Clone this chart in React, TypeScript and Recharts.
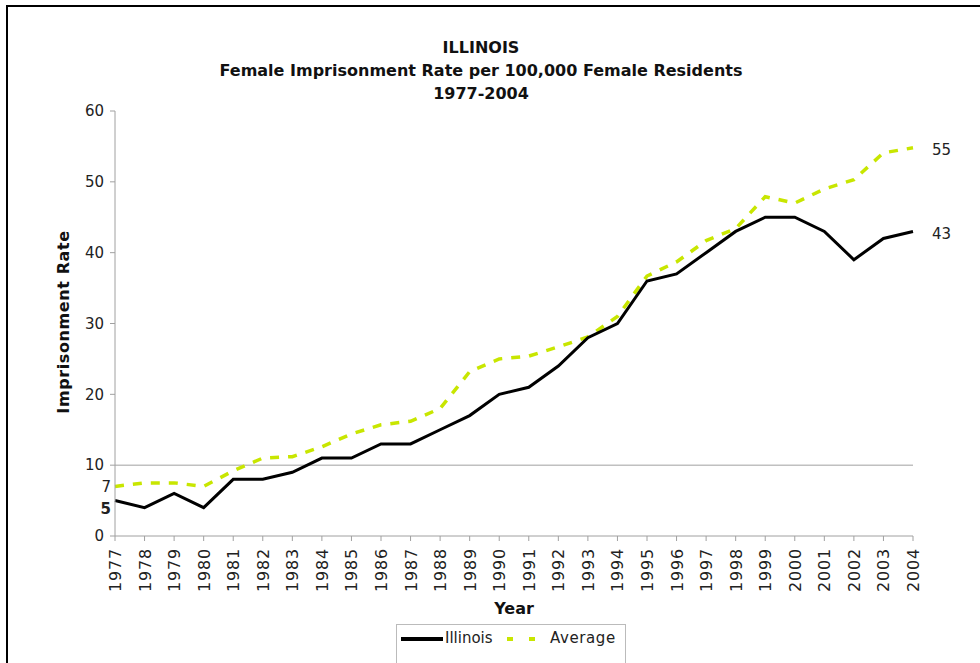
import React from 'react';
import { LineChart, Line, XAxis, YAxis, ReferenceLine, Label } from 'recharts';

const years = ['1977', '1978', '1979', '1980', '1981', '1982', '1983', '1984', '1985', '1986', '1987', '1988', '1989', '1990', '1991', '1992', '1993', '1994', '1995', '1996', '1997', '1998', '1999', '2000', '2001', '2002', '2003', '2004'];
const illinois = [5, 4, 6, 4, 8, 8, 9, 11, 11, 13, 13, 15, 17, 20, 21, 24, 28, 30, 36, 37, 40, 43, 45, 45, 43, 39, 42, 43];
const average = [7, 7.5, 7.5, 7, 9.2, 11, 11.2, 12.6, 14.4, 15.7, 16.2, 18, 23.2, 25, 25.4, 26.7, 28.1, 31, 36.7, 38.7, 41.7, 43.4, 47.9, 47, 49, 50.3, 54.1, 54.8];
const yTicks = [0, 10, 20, 30, 40, 50, 60];
const titleLines = ['ILLINOIS', 'Female Imprisonment Rate per 100,000 Female Residents', '1977-2004'];

const data = years.map((year, i) => ({ year, illinois: illinois[i], average: average[i] }));

const FONT = '"DejaVu Sans", Verdana, sans-serif';
const GREEN = '#c8e600';
const AXIS = '#a0a0a0';

// value shown only at the two ends of each line
function endLabel(boldFirst: boolean, firstDy: number) {
  return (props: any) => {
    const { x, y, index, value } = props;
    const last = years.length - 1;
    if (index !== 0 && index !== last) return null;
    const first = index === 0;
    return (
      <text
        x={first ? x - 4 : x + 19}
        y={y + (first ? firstDy : 2)}
        dy="0.35em"
        textAnchor={first ? 'end' : 'start'}
        fontFamily={FONT}
        fontSize={15}
        fontWeight={first && boldFirst ? 'bold' : 'normal'}
        fill="#222"
      >
        {Math.round(value)}
      </text>
    );
  };
}

function YearTick(props: any) {
  const { x, payload } = props;
  return (
    <g transform={`translate(${x},548)`}>
      <text transform="rotate(-90)" x={0} y={6} textAnchor="end" fontFamily={FONT} fontSize={16} letterSpacing={0.8} fill="#222">
        {payload.value}
      </text>
    </g>
  );
}

export default function App() {
  return (
    <div style={{ position: 'relative', width: 980, height: 663, overflow: 'hidden', background: '#fff' }}>
      <style>{'body{margin:0;overflow:hidden;}'}</style>
      <div style={{ position: 'absolute', left: 6, top: 5, width: 1000, height: 700, borderTop: '2px solid #000', borderLeft: '2px solid #000' }} />
      <div style={{ position: 'absolute', left: 0, top: 36, width: 962, textAlign: 'center', fontFamily: FONT, fontWeight: 'bold', fontSize: 16, lineHeight: '23px', color: '#111' }}>
        {titleLines.map((t) => (
          <div key={t}>{t}</div>
        ))}
      </div>
      <div style={{ position: 'absolute', left: 0, top: 0 }}>
        <LineChart width={980} height={663} data={data} margin={{ top: 111, right: 67, left: 55, bottom: 67 }}>
          <ReferenceLine y={10} stroke={AXIS} strokeWidth={1} />
          <XAxis
            dataKey="year"
            interval={0}
            height={60}
            stroke={AXIS}
            tickSize={5}
            tick={<YearTick />}
          >
            <Label
              content={() => (
                <text x={514} y={608} dy="0.35em" textAnchor="middle" fontFamily={FONT} fontSize={16} fontWeight="bold" fill="#111">
                  Year
                </text>
              )}
            />
          </XAxis>
          <YAxis
            domain={[0, 60]}
            ticks={yTicks}
            width={60}
            stroke={AXIS}
            tickSize={5}
            tick={{ fill: '#222', fontFamily: FONT, fontSize: 15, dx: -4 }}
          >
            <Label
              content={() => (
                <text x={63} y={322} dy="0.35em" textAnchor="middle" transform="rotate(-90 63 322)" fontFamily={FONT} fontSize={16} letterSpacing={0.6} fontWeight="bold" fill="#111">
                  Imprisonment Rate
                </text>
              )}
            />
          </YAxis>
          <Line
            type="linear"
            dataKey="average"
            stroke={GREEN}
            strokeWidth={3.5}
            strokeDasharray="9 9"
            dot={false}
            isAnimationActive={false}
            label={endLabel(false, 0)}
          />
          <Line
            type="linear"
            dataKey="illinois"
            stroke="#000"
            strokeWidth={3}
            dot={false}
            isAnimationActive={false}
            label={endLabel(true, 8)}
          />
        </LineChart>
      </div>
      <div
        style={{
          position: 'absolute',
          left: 396,
          top: 624,
          width: 228,
          height: 60,
          border: '1px solid #bbb',
          fontFamily: FONT,
          fontSize: 15,
          color: '#222',
        }}
      >
        <div style={{ position: 'absolute', left: 4, top: 12, width: 42, height: 4, background: '#000' }} />
        <div style={{ position: 'absolute', left: 48, top: 4 }}>Illinois</div>
        <div style={{ position: 'absolute', left: 110, top: 12, width: 6, height: 4, background: GREEN }} />
        <div style={{ position: 'absolute', left: 132, top: 12, width: 6, height: 4, background: GREEN }} />
        <div style={{ position: 'absolute', left: 153, top: 4, letterSpacing: 0.6 }}>Average</div>
      </div>
    </div>
  );
}
